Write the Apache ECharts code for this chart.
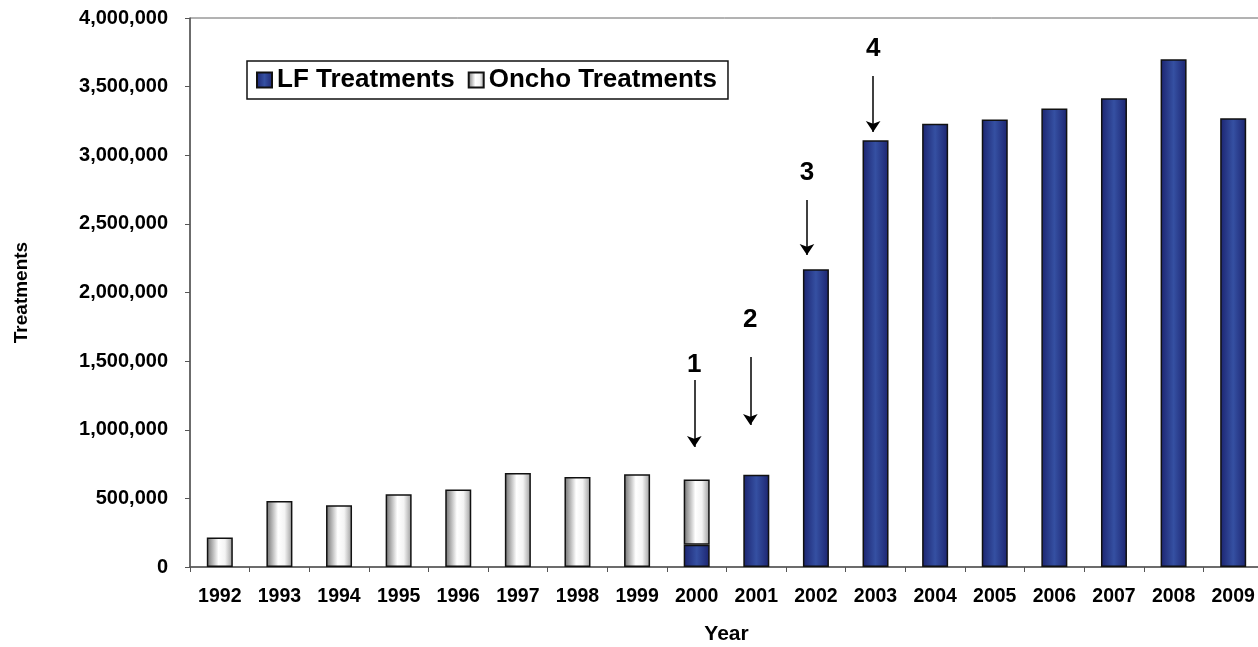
<!DOCTYPE html>
<html>
<head>
<meta charset="utf-8">
<script src="https://cdn.jsdelivr.net/npm/echarts@6/dist/echarts.min.js"></script>
<style>
  html, body { margin: 0; padding: 0; background: #fff; }
  #chart { width: 1258px; height: 647px; }
</style>
</head>
<body>
<div id="chart"></div>
<script>
// data
var years = ['1992','1993','1994','1995','1996','1997','1998','1999','2000',
             '2001','2002','2003','2004','2005','2006','2007','2008','2009'];
var lfTreatments = [0,0,0,0,0,0,0,0,163000,
                    673000,2170000,3110000,3230000,3260000,3340000,3415000,3700000,3270000];
var onchoTreatments = [215000,480000,450000,530000,565000,685000,655000,675000,474000,
                       0,0,0,0,0,0,0,0,0];
var yTicks = [0,500000,1000000,1500000,2000000,2500000,3000000,3500000,4000000];

// numbered arrows: [label, position along the years (0..18), arrow start, arrow end, label value]
var notes = [
  ['1', 8.46, 1362000, 874000, 1472000],
  ['2', 9.40, 1530000, 1035000, 1800000],
  ['3', 10.35, 2674000, 2273000, 2871000],
  ['4', 11.46, 3577000, 3169000, 3774000]
];

var FONT = '"Liberation Sans", Arial, sans-serif';

var chart = echarts.init(document.getElementById('chart'));

var blueFill = new echarts.graphic.LinearGradient(0, 0, 1, 0, [
  { offset: 0, color: '#1c2470' },
  { offset: 0.5, color: '#3550a2' },
  { offset: 1, color: '#1c2470' }
]);
var greyFill = new echarts.graphic.LinearGradient(0, 0, 1, 0, [
  { offset: 0, color: '#6e6e6e' },
  { offset: 0.45, color: '#ffffff' },
  { offset: 0.7, color: '#f4f4f4' },
  { offset: 1, color: '#9a9a9a' }
]);

var option = {
  backgroundColor: '#fff',
  animation: false,
  textStyle: { fontFamily: FONT },
  grid: { left: 190, top: 18, width: 1073, height: 549,
          outerBoundsMode: 'none', containLabel: false,
          show: true, borderColor: '#666', borderWidth: 1 },
  legend: {
    left: 247, top: 61,
    data: ['LF Treatments', 'Oncho Treatments'],
    backgroundColor: '#fff',
    borderColor: '#111', borderWidth: 1.5,
    padding: [6, 11, 6, 9],
    itemWidth: 15, itemHeight: 15, itemGap: 13,
    icon: 'rect',
    textStyle: { fontFamily: FONT, fontWeight: 'bold', fontSize: 26, color: '#000' }
  },
  xAxis: [
    {
      type: 'category',
      data: years,
      name: 'Year',
      nameLocation: 'middle',
      nameGap: 57,
      nameTextStyle: { fontFamily: FONT, fontWeight: 'bold', fontSize: 21, color: '#000' },
      axisLine: { lineStyle: { color: '#555', width: 1.5 } },
      axisTick: { show: true, alignWithLabel: false, length: 5, lineStyle: { color: '#555' } },
      axisLabel: { fontFamily: FONT, fontWeight: 'bold', fontSize: 19.5, color: '#000', margin: 20, interval: 0 }
    },
    {
      type: 'value', min: 0, max: 18, show: false
    }
  ],
  yAxis: {
    type: 'value',
    min: 0, max: 4000000, interval: 500000,
    name: 'Treatments',
    nameLocation: 'middle',
    nameGap: 159,
    nameRotate: 90,
    nameTextStyle: { fontFamily: FONT, fontWeight: 'bold', fontSize: 19, color: '#000' },
    axisLine: { show: true, lineStyle: { color: '#555', width: 1.5 } },
    axisTick: { show: true, length: 5, lineStyle: { color: '#555' } },
    splitLine: { show: false },
    axisLabel: {
      fontFamily: FONT, fontWeight: 'bold', fontSize: 20, color: '#000', margin: 22,
      formatter: function (v) {
        return yTicks.indexOf(v) >= 0 ? v.toLocaleString('en-US') : '';
      }
    }
  },
  series: [
    {
      name: 'LF Treatments',
      type: 'bar',
      stack: 'total',
      barWidth: 26,
      data: lfTreatments.map(function (v) { return v === 0 ? null : v; }),
      itemStyle: { color: blueFill, borderColor: '#111', borderWidth: 1.5 }
    },
    {
      name: 'Oncho Treatments',
      type: 'bar',
      stack: 'total',
      barWidth: 26,
      data: onchoTreatments.map(function (v) { return v === 0 ? null : v; }),
      itemStyle: { color: greyFill, borderColor: '#111', borderWidth: 1.5 }
    },
    {
      name: 'notes',
      type: 'scatter',
      xAxisIndex: 1,
      symbolSize: 0,
      silent: true,
      itemStyle: { opacity: 1 },
      data: notes.map(function (n) { return { value: [n[1], n[4]], name: n[0] }; }),
      label: {
        show: true, position: 'inside',
        formatter: '{b}',
        fontFamily: FONT, fontWeight: 'bold', fontSize: 26, color: '#000'
      },
      markLine: {
        silent: true,
        symbol: ['none', 'arrow'],
        symbolSize: 11,
        label: { show: false },
        lineStyle: { color: '#000', width: 1.5, type: 'solid', opacity: 1 },
        data: notes.map(function (n) {
          return [{ coord: [n[1], n[2]] }, { coord: [n[1], n[3]] }];
        })
      }
    }
  ]
};

chart.setOption(option);
</script>
</body>
</html>
